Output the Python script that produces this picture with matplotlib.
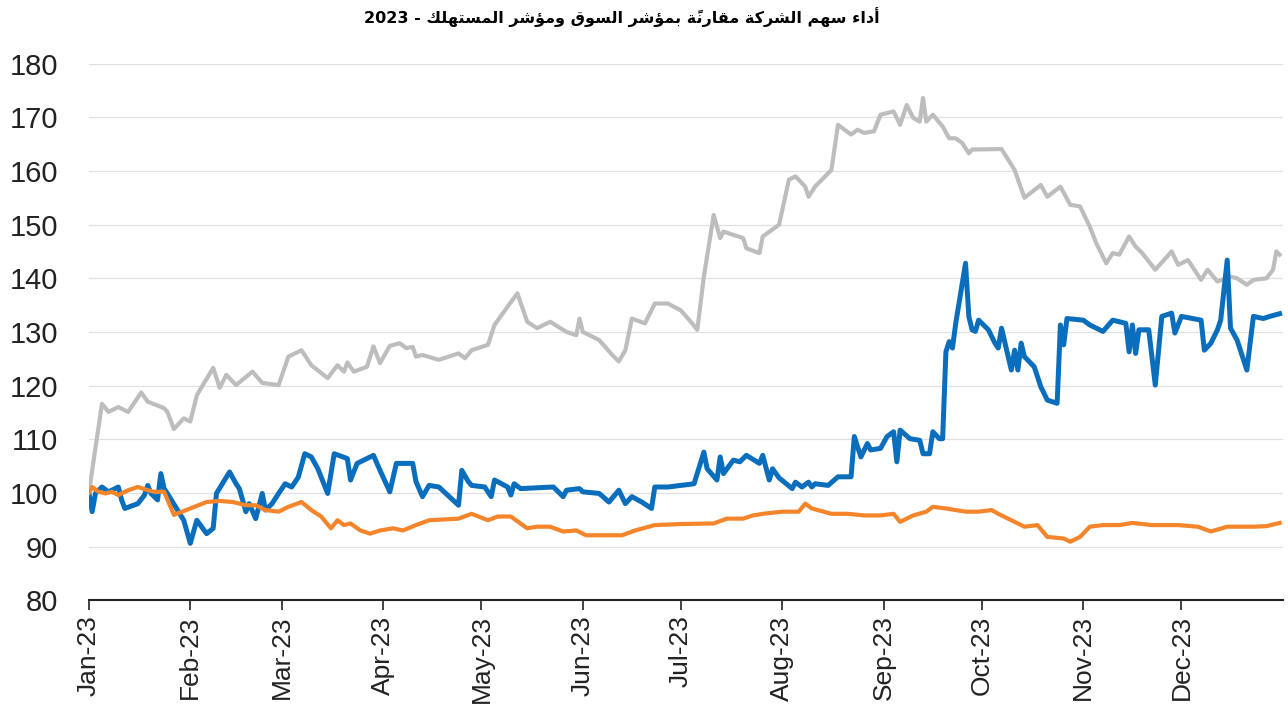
"""
Company share vs market index vs consumer index, 2023
"""

import numpy as np
import matplotlib
matplotlib.use('Agg')
import matplotlib.pyplot as plt
import matplotlib.dates as mdates

##data: day offset from 1 Jan 2023 and index value (base 100)
market_days = [0, 4, 6, 9, 12, 16, 18, 23, 24, 26, 29, 31, 33, 38, 40, 42, 45, 50, 53, 58,
               61, 65, 68, 73, 76, 78, 79, 81, 85, 87, 89, 92, 95, 97, 99, 100, 102, 107, 113, 115,
               117, 122, 124, 128, 131, 134, 137, 141, 146, 149, 150, 151, 153, 156, 160, 162, 164, 166, 170, 173,
               177, 181, 184, 186, 188, 191, 193, 194, 200, 201, 205, 206, 211, 214, 216, 219, 220, 222, 227, 229,
               233, 235, 237, 240, 242, 246, 248, 250, 252, 254, 255, 256, 258, 261, 263, 265, 267, 269, 270, 279,
               283, 286, 291, 293, 297, 300, 303, 306, 308, 311, 313, 315, 318, 320, 322, 326, 331, 333, 336, 340,
               342, 345, 349, 351, 354, 356, 360, 362, 363, 364]
market_vals = [100, 116.6, 115.1, 116, 115.1, 118.7, 117, 115.8, 115.1, 111.9, 113.9, 113.3, 118.2, 123.3, 119.6, 122, 120.1, 122.6, 120.5, 120.1,
               125.4, 126.6, 123.8, 121.4, 123.8, 122.6, 124.3, 122.6, 123.5, 127.3, 124.2, 127.4, 127.9, 127, 127.2, 125.4, 125.7, 124.8, 126, 125.1,
               126.6, 127.6, 131.3, 134.7, 137.2, 131.9, 130.7, 131.9, 130, 129.4, 132.5, 130, 129.4, 128.5, 125.7, 124.5, 126.6, 132.5, 131.6, 135.3,
               135.3, 134, 131.9, 130.4, 140.3, 151.8, 147.5, 148.7, 147.5, 145.6, 144.7, 147.8, 150, 158.4, 159, 157.1, 155.2, 157.1, 160.2, 168.6,
               166.8, 167.7, 167.1, 167.4, 170.5, 171.1, 168.6, 172.3, 169.9, 169.2, 173.6, 169.2, 170.5, 168.3, 166.1, 166.1, 165.2, 163.3, 164, 164.1,
               160.2, 155, 157.4, 155.2, 157.1, 153.7, 153.4, 149.6, 146.5, 142.8, 144.7, 144.4, 147.8, 145.9, 144.7, 141.6, 145, 142.5, 143.4, 139.7,
               141.6, 139.4, 140.3, 140, 138.8, 139.7, 140, 141.6, 145, 144.4]

company_days = [0, 1, 2, 4, 6, 9, 10, 11, 15, 17, 18, 19, 21, 22, 23, 24, 29, 31, 33, 36,
                38, 39, 43, 45, 46, 48, 49, 51, 53, 54, 56, 58, 60, 62, 64, 66, 68, 70, 73, 75,
                79, 80, 82, 87, 89, 92, 94, 99, 100, 102, 104, 107, 113, 114, 116, 117, 121, 123, 124, 128,
                129, 130, 132, 142, 145, 146, 150, 151, 156, 159, 162, 164, 166, 169, 172, 173, 177, 181, 185, 188,
                189, 192, 193, 194, 197, 199, 201, 205, 206, 208, 209, 211, 215, 216, 218, 220, 221, 222, 226, 229,
                233, 234, 236, 238, 239, 242, 244, 246, 247, 248, 251, 254, 255, 257, 258, 260, 261, 262, 263, 264,
                265, 268, 269, 270, 271, 272, 275, 277, 278, 279, 282, 283, 284, 285, 286, 289, 291, 293, 296, 297,
                298, 299, 304, 306, 310, 313, 317, 318, 319, 320, 321, 324, 326, 328, 331, 332, 334, 340, 341, 343,
                345, 346, 348, 349, 351, 354, 356, 359, 361, 364]
company_vals = [100, 96.5, 99.9, 101.1, 100.2, 101.1, 98.7, 97.1, 98, 99.6, 101.4, 99.9, 98.7, 103.6, 100.8, 99.9, 94.9, 90.6, 94.9, 92.4,
                93.4, 99.9, 103.9, 101.7, 100.8, 96.5, 98, 95.2, 99.9, 96.8, 98, 99.9, 101.7, 101.1, 102.9, 107.3, 106.7, 104.5, 99.9, 107.3,
                106.4, 102.4, 105.5, 107, 104.2, 100.2, 105.5, 105.5, 102.1, 99.3, 101.4, 101.1, 97.7, 104.2, 102.1, 101.4, 101.1, 99.3, 102.4, 101.1,
                99.6, 101.7, 100.8, 101.1, 99.3, 100.5, 100.8, 100.2, 99.9, 98.3, 100.5, 98, 99.3, 98.3, 97.1, 101.1, 101.1, 101.4, 101.7, 107.6,
                104.5, 102.4, 106.7, 103.6, 106.1, 105.8, 107, 105.5, 107, 102.4, 104.5, 102.8, 100.8, 102, 101.1, 102, 101.1, 101.7, 101.4, 103,
                103, 110.5, 106.7, 109.2, 108, 108.3, 110.5, 111.4, 105.8, 111.7, 110.1, 109.8, 107.3, 107.3, 111.4, 110.1, 110.1, 126.3, 128.2, 127,
                131.6, 142.8, 132.9, 130.4, 130.1, 132.2, 130.4, 127.9, 127, 130.7, 122.9, 126.6, 122.9, 127.9, 125.4, 123.5, 119.8, 117.3, 116.7, 131.3,
                127.6, 132.5, 132.2, 131.3, 130.1, 132.2, 131.6, 126.3, 131.3, 126, 130.4, 130.4, 120.1, 132.9, 133.5, 129.8, 132.9, 132.2, 126.6, 127.9,
                130.4, 132.2, 143.4, 130.7, 128.5, 122.9, 132.9, 132.5, 132.9, 133.4]

consumer_days = [0, 1, 3, 5, 7, 9, 12, 15, 18, 20, 23, 26, 31, 36, 40, 44, 48, 51, 54, 58,
                 61, 65, 68, 71, 74, 76, 78, 80, 83, 86, 89, 93, 96, 100, 104, 113, 117, 122, 125, 129,
                 134, 137, 141, 145, 149, 152, 158, 163, 167, 173, 181, 191, 195, 200, 203, 206, 212, 217, 219, 221,
                 227, 232, 237, 242, 246, 248, 252, 256, 258, 262, 268, 272, 276, 278, 283, 286, 290, 293, 298, 300,
                 303, 306, 310, 315, 319, 325, 333, 339, 343, 348, 356, 360, 364]
consumer_vals = [100, 101.1, 100.2, 99.9, 100.2, 99.6, 100.5, 101.1, 100.5, 100.2, 100.2, 95.9, 97.1, 98.3, 98.5, 98.3, 97.7, 97.7, 96.8, 96.5,
                 97.4, 98.3, 96.8, 95.6, 93.4, 94.9, 94, 94.3, 93, 92.4, 93, 93.4, 93, 94, 94.9, 95.2, 96.1, 94.9, 95.6, 95.6,
                 93.4, 93.7, 93.7, 92.8, 93, 92.1, 92.1, 92.1, 93, 94, 94.2, 94.3, 95.2, 95.2, 95.8, 96.1, 96.5, 96.5, 98, 97.1,
                 96.1, 96.1, 95.8, 95.8, 96.1, 94.6, 95.8, 96.5, 97.4, 97.1, 96.5, 96.5, 96.8, 96.1, 94.6, 93.7, 94, 91.8, 91.5, 90.9,
                 91.8, 93.7, 94, 94, 94.4, 94, 94, 93.7, 92.8, 93.7, 93.7, 93.8, 94.4]

title = 'أداء سهم الشركة مقارنةً بمؤشر السوق ومؤشر المستهلك - 2023'

##arabic presentation forms: isolated, final, initial, medial
FORMS = {
    'ء': ('\uFE80', None, None, None),
    'أ': ('\uFE83', '\uFE84', None, None),
    'ؤ': ('\uFE85', '\uFE86', None, None),
    'ا': ('\uFE8D', '\uFE8E', None, None),
    'ب': ('\uFE8F', '\uFE90', '\uFE91', '\uFE92'),
    'ة': ('\uFE93', '\uFE94', None, None),
    'ت': ('\uFE95', '\uFE96', '\uFE97', '\uFE98'),
    'د': ('\uFEA9', '\uFEAA', None, None),
    'ر': ('\uFEAD', '\uFEAE', None, None),
    'س': ('\uFEB1', '\uFEB2', '\uFEB3', '\uFEB4'),
    'ش': ('\uFEB5', '\uFEB6', '\uFEB7', '\uFEB8'),
    'ق': ('\uFED5', '\uFED6', '\uFED7', '\uFED8'),
    'ك': ('\uFED9', '\uFEDA', '\uFEDB', '\uFEDC'),
    'ل': ('\uFEDD', '\uFEDE', '\uFEDF', '\uFEE0'),
    'م': ('\uFEE1', '\uFEE2', '\uFEE3', '\uFEE4'),
    'ن': ('\uFEE5', '\uFEE6', '\uFEE7', '\uFEE8'),
    'ه': ('\uFEE9', '\uFEEA', '\uFEEB', '\uFEEC'),
    'و': ('\uFEED', '\uFEEE', None, None),
}
MARKS = {'\u064B'}


def shape_arabic(text):
    '''
    joins the arabic letters and puts the string in visual order
    (matplotlib has no bidi / shaping)
    '''
    chars = list(text)
    out = []
    for i, c in enumerate(chars):
        if c not in FORMS:
            out.append(c)
            continue
        j = i - 1
        while j >= 0 and chars[j] in MARKS:
            j -= 1
        k = i + 1
        while k < len(chars) and chars[k] in MARKS:
            k += 1
        prev_join = j >= 0 and chars[j] in FORMS and FORMS[chars[j]][2] is not None
        next_join = (k < len(chars) and chars[k] in FORMS and FORMS[chars[k]][1] is not None
                     and FORMS[c][2] is not None)
        iso, fin, ini, med = FORMS[c]
        if prev_join and next_join:
            out.append(med)
        elif prev_join:
            out.append(fin or iso)
        elif next_join:
            out.append(ini)
        else:
            out.append(iso)

    ##visual order
    out = out[::-1]
    ##marks go after their base letter
    i = 0
    while i < len(out) - 1:
        if out[i] in MARKS:
            out[i], out[i + 1] = out[i + 1], out[i]
            i += 2
        else:
            i += 1
    ##digits keep left to right
    res, run = [], []
    for c in out:
        if c.isdigit():
            run.append(c)
        else:
            res.extend(run[::-1])
            run = []
            res.append(c)
    res.extend(run[::-1])
    return ''.join(res)


start = np.datetime64('2023-01-01')
def to_dates(days):
    return start + np.array(days).astype('timedelta64[D]')

plt.rcParams['font.family'] = ['Liberation Sans', 'DejaVu Sans']

fig = plt.figure(figsize=(12.88, 7.24), dpi=100)
plot = fig.add_axes([0.069, 0.171, 0.927, 0.741])

##lines
plot.plot(to_dates(market_days), market_vals, color='#bdbdbd', lw=3.0, solid_joinstyle='round')
plot.plot(to_dates(company_days), company_vals, color='#0a6ebd', lw=3.6, solid_joinstyle='round')
plot.plot(to_dates(consumer_days), consumer_vals, color='#f5852a', lw=3.0, solid_joinstyle='round')

##axes
plot.set_ylim(80, 180)
plot.set_yticks(range(80, 181, 10))
plot.set_xlim(np.datetime64('2023-01-01'), np.datetime64('2024-01-01'))
plot.set_xticks([np.datetime64('2023-%02d-01' % m) for m in range(1, 13)])
plot.xaxis.set_major_formatter(mdates.DateFormatter('%b-%y'))
plot.grid(axis='y', color='#e0e0e0', lw=0.9)
plot.set_axisbelow(True)

for side in ['top', 'right', 'left']:
    plot.spines[side].set_visible(False)
plot.spines['bottom'].set_color('#222222')
plot.spines['bottom'].set_linewidth(1.5)

plot.tick_params(axis='y', length=0, pad=22, labelsize=21, labelcolor='#222222')
plot.tick_params(axis='x', length=7, width=1.2, pad=4, labelsize=19, labelrotation=90,
                 color='#222222', labelcolor='#222222')

##title
fig.text(0.483, 0.976, shape_arabic(title), ha='center', va='center', fontsize=11.5,
         fontweight='bold', family=['DejaVu Sans'])

fig.savefig('out.png', dpi=100)
